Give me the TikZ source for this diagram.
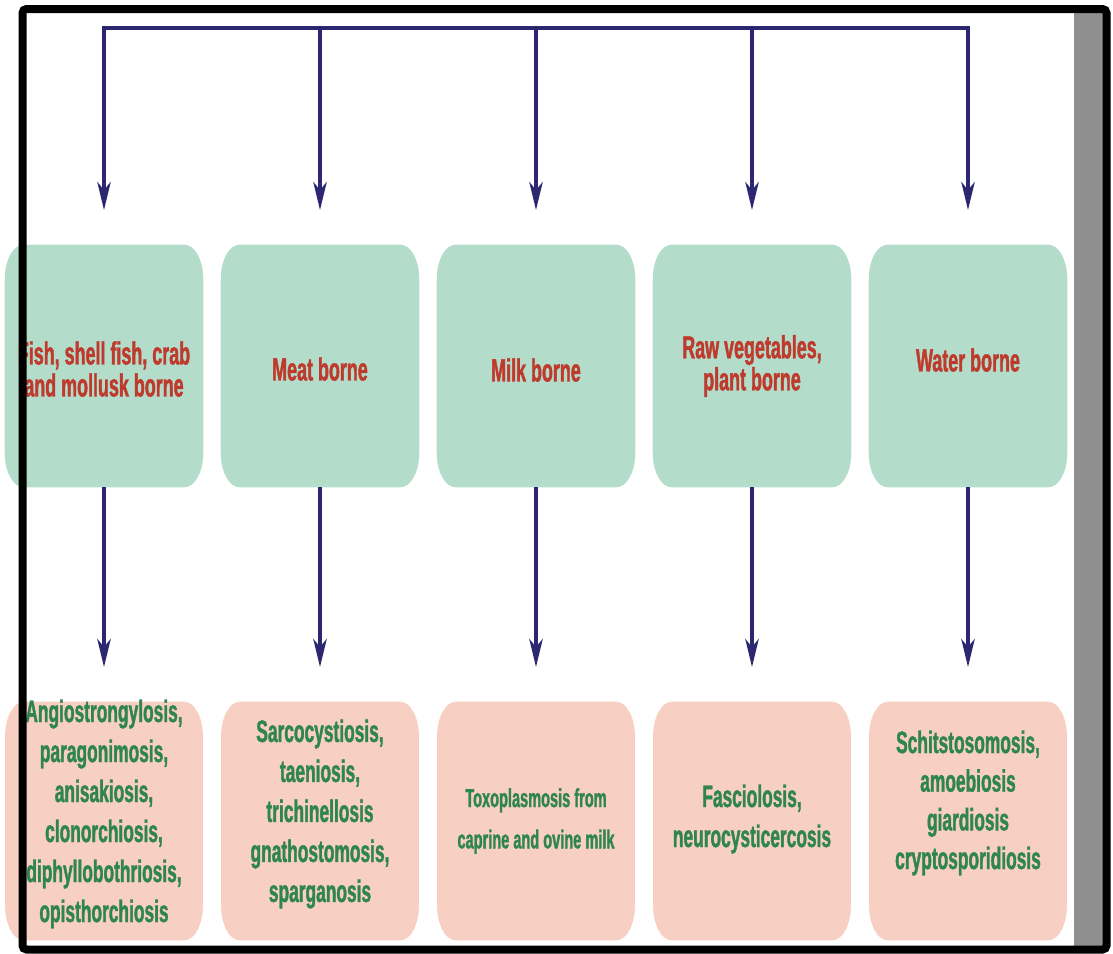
\documentclass[tikz,border=0pt]{standalone}
\usepackage{fontspec}
\newfontfamily\labfont{Liberation Sans}[FakeStretch=0.56, FakeBold=1.2]
\usetikzlibrary{arrows.meta}
\definecolor{boxgreen}{HTML}{B3DDCA}
\definecolor{boxpink}{HTML}{F8CFC3}
\definecolor{txtred}{HTML}{BE3A2C}
\definecolor{txtgreen}{HTML}{2F8550}
\definecolor{linkblue}{HTML}{2D2670}
\definecolor{sidegray}{HTML}{8F8F8F}

% fill a node's outline with oval (elliptical) corners
\newcommand\ovalfill[2]{%
  \fill[#2] ([xshift=14pt]#1.north west) -- ([xshift=-14pt]#1.north east)
    arc[start angle=90, end angle=0, x radius=14pt, y radius=26pt]
    -- ([yshift=26pt]#1.south east)
    arc[start angle=0, end angle=-90, x radius=14pt, y radius=26pt]
    -- ([xshift=14pt]#1.south west)
    arc[start angle=-90, end angle=-180, x radius=14pt, y radius=26pt]
    -- ([yshift=-26pt]#1.north west)
    arc[start angle=180, end angle=90, x radius=14pt, y radius=26pt]
    -- cycle;}

\begin{document}
\begin{tikzpicture}[x=0.75pt,y=-0.75pt,
  srcbox/.style={rectangle, minimum width=148.5pt, minimum height=181.5pt, inner sep=0pt},
  dzbox/.style={rectangle, minimum width=148pt, minimum height=178.5pt, inner sep=0pt},
  srctext/.style={align=center, text=txtred, inner sep=0pt,
    font={\labfont\bfseries\fontsize{24}{24}\selectfont}},
  dztext/.style={align=center, text=txtgreen, inner sep=0pt,
    font={\labfont\bfseries\fontsize{23.25}{30}\selectfont}},
  smalltext/.style={dztext, font={\labfont\bfseries\fontsize{19.5}{31}\selectfont}},
  link/.style={draw=linkblue, line width=3pt},
  arrow/.style={link, -{Stealth[length=21pt,width=10pt,inset=6pt]}},
]
\useasboundingbox (0,0) rectangle (1113,953);
\fill[white] (0,0) rectangle (1113,953);

% source categories
\node[srcbox] (g1) at (104,366) {};
\node[srcbox] (g2) at (320,366) {};
\node[srcbox] (g3) at (536,366) {};
\node[srcbox] (g4) at (752,366) {};
\node[srcbox] (g5) at (968,366) {};

% diseases
\node[dzbox] (p1) at (104,821) {};
\node[dzbox] (p2) at (320,821) {};
\node[dzbox] (p3) at (536,821) {};
\node[dzbox] (p4) at (752,821) {};
\node[dzbox] (p5) at (968,821) {};

\foreach \i in {1,...,5} {
  \ovalfill{g\i}{boxgreen}
  \ovalfill{p\i}{boxpink}
}

\node[srctext] (g1t) at (104,369) {Fish, shell fish, crab\\and mollusk borne};
\node[srctext] (g2t) at (320,369) {Meat borne};
\node[srctext] (g3t) at (536,370) {Milk borne};
\node[srctext] (g4t) at (752,366) {Raw vegetables,\\plant borne};
\node[srctext] (g5t) at (968,360) {Water borne};

\node[dztext] (p1t) at (104,814) {Angiostrongylosis,\\paragonimosis,\\anisakiosis,\\clonorchiosis,\\diphyllobothriosis,\\opisthorchiosis};
\node[dztext] (p2t) at (320,814) {Sarcocystiosis,\\taeniosis,\\trichinellosis\\gnathostomosis,\\sparganosis};
\node[smalltext] (p3t) at (536,821) {Toxoplasmosis from\\caprine and ovine milk};
\node[dztext] (p4t) at (752,819) {Fasciolosis,\\neurocysticercosis};
\node[dztext, font={\labfont\bfseries\fontsize{23.25}{29}\selectfont}] (p5t) at (968,803) {Schitstosomosis,\\amoebiosis\\giardiosis\\cryptosporidiosis};

% distribution bar
\foreach \i/\x in {1/104,2/320,3/536,4/752,5/968}
  \coordinate (t\i) at (\x,28);
\draw[link, line cap=rect] (t1) -- (t5);
\foreach \i in {1,...,5} {
  \draw[arrow] (t\i) -- ([yshift=26pt]g\i.north);
  \draw[arrow] (g\i.south) -- ([yshift=26pt]p\i.north);
}

% side strip and frame
\fill[sidegray] (1074,13) rectangle (1103,947);
\draw[black, line width=6pt, rounded corners=3pt] (22.5,9) rectangle (1106.5,949.5);
\end{tikzpicture}
\end{document}
